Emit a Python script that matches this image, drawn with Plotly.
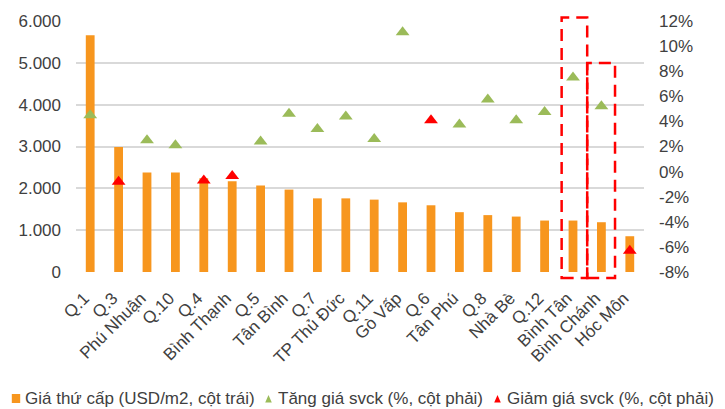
import plotly.graph_objects as go

# District names (x categories)
districts = [
    "Q.1", "Q.3", "Phú Nhuận", "Q.10", "Q.4", "Bình Thạnh", "Q.5", "Tân Bình",
    "Q.7", "TP Thủ Đức", "Q.11", "Gò Vấp", "Q.6", "Tân Phú", "Q.8", "Nhà Bè",
    "Q.12", "Bình Tân", "Bình Chánh", "Hóc Môn",
]

# Secondary-market price, USD/m2 (left axis)
price_usd_m2 = [
    5660, 2990, 2380, 2380, 2240, 2170, 2070, 1970,
    1760, 1760, 1730, 1665, 1595, 1430, 1360, 1325,
    1230, 1230, 1190, 855,
]

# Year-on-year price change, % (right axis): rises and declines
rise_pct = [
    4.5, None, 2.5, 2.1, None, None, 2.4, 4.6,
    3.4, 4.4, 2.6, 11.1, None, 3.75, 5.75, 4.1,
    4.75, 7.5, 5.2, None,
]
fall_pct = [
    None, -0.8, None, None, -0.7, -0.35, None, None,
    None, None, None, None, 4.1, None, None, None,
    None, None, None, -6.3,
]

# Axis ticks
left_ticks = [0, 1000, 2000, 3000, 4000, 5000, 6000]
right_ticks = [-8, -6, -4, -2, 0, 2, 4, 6, 8, 10, 12]
right_tick_text = ["-8%", "-6%", "-4%", "-2%", "0%", "2%", "4%", "6%", "8%", "10%", "12%"]

# Legend labels
legend_labels = [
    "Giá thứ cấp (USD/m2, cột trái)",
    "Tăng giá svck (%, cột phải)",
    "Giảm giá svck (%, cột phải)",
]

# Highlighted districts (dashed boxes)
highlighted = ["Bình Tân", "Bình Chánh"]

ORANGE = "#F7961E"
GREEN = "#9BBB59"
RED = "#FF0000"
TEXT = "#404040"
FONT = "Arial, Liberation Sans, sans-serif"

W, H = 725, 409
M_L, M_R, M_T, M_B = 76, 81, 21, 137
PLOT_W = W - M_L - M_R
PLOT_H = H - M_T - M_B


def px_x(px):
    """Pixel column -> paper x."""
    return (px - M_L) / PLOT_W


def px_y(py):
    """Pixel row (from top) -> paper y."""
    return (H - M_B - py) / PLOT_H


fig = go.Figure()

fig.add_trace(go.Bar(
    x=districts, y=price_usd_m2, name=legend_labels[0],
    marker=dict(color=ORANGE, line=dict(width=0)), width=0.31,
    showlegend=False,
))
fig.add_trace(go.Scatter(
    x=districts, y=rise_pct, name=legend_labels[1], yaxis="y2",
    mode="markers", marker=dict(symbol="triangle-up", size=12, color=GREEN),
    showlegend=False,
))
fig.add_trace(go.Scatter(
    x=districts, y=fall_pct, name=legend_labels[2], yaxis="y2",
    mode="markers", marker=dict(symbol="triangle-up", size=12, color=RED),
    showlegend=False,
))

shapes = []
annotations = []

# Dashed highlight boxes around the two districts
box_specs = [
    # (district, left offset, right offset, top pixel row)
    (highlighted[0], -0.40, 0.50, 17.5),
    (highlighted[1], -0.50, 0.48, 63.0),
]
for name, dl, dr, top_px in box_specs:
    i = districts.index(name)
    shapes.append(dict(
        type="rect", xref="x", yref="paper",
        x0=i + dl, x1=i + dr, y0=px_y(278), y1=px_y(top_px),
        line=dict(color=RED, width=2.5, dash="12px,7px"),
        fillcolor="rgba(0,0,0,0)", layer="above",
    ))

# Legend row drawn at the bottom
leg_y = 398.5
legend_items = [
    # (symbol kind, colour, symbol centre x, text start x)
    ("square", ORANGE, 16.0, 23.0),
    ("triangle", GREEN, 268.5, 275.5),
    ("triangle", RED, 497.5, 504.5),
]
for (kind, color, cx, tx), label in zip(legend_items, legend_labels):
    if kind == "square":
        shapes.append(dict(
            type="rect", xref="paper", yref="paper",
            x0=px_x(cx - 4.2), x1=px_x(cx + 4.2),
            y0=px_y(leg_y + 4.5), y1=px_y(leg_y - 4.5),
            fillcolor=color, line=dict(width=0),
        ))
    else:
        path = "M {:.5f},{:.5f} L {:.5f},{:.5f} L {:.5f},{:.5f} Z".format(
            px_x(cx - 3.3), px_y(leg_y + 4.0),
            px_x(cx + 3.3), px_y(leg_y + 4.0),
            px_x(cx), px_y(leg_y - 3.5),
        )
        shapes.append(dict(
            type="path", xref="paper", yref="paper", path=path,
            fillcolor=color, line=dict(width=0),
        ))
    annotations.append(dict(
        xref="paper", yref="paper", x=px_x(tx), y=px_y(leg_y),
        xanchor="left", yanchor="middle", showarrow=False,
        text=label, font=dict(family=FONT, size=17, color=TEXT),
    ))

fig.update_layout(
    width=W, height=H,
    margin=dict(l=M_L, r=M_R, t=M_T, b=M_B, pad=0),
    paper_bgcolor="white", plot_bgcolor="white",
    separators=",.",
    font=dict(family=FONT, size=17, color=TEXT),
    showlegend=False,
    bargap=0.69,
    xaxis=dict(
        type="category", range=[-0.5, len(districts) - 0.5],
        tickangle=-45, showgrid=False, zeroline=False, showline=False,
        ticks="", ticklabelstandoff=12, ticklabelshift=-6,
        tickfont=dict(family=FONT, size=17, color=TEXT),
    ),
    yaxis=dict(
        range=[0, 6000], tickvals=left_ticks, tickformat=",d",
        showgrid=True, gridcolor="#D9D9D9", gridwidth=2,
        zeroline=False, showline=False, ticks="",
        ticklabelstandoff=14,
        tickfont=dict(family=FONT, size=17, color=TEXT),
    ),
    yaxis2=dict(
        overlaying="y", side="right", range=[-8, 12],
        tickvals=right_ticks, ticktext=right_tick_text,
        showgrid=False, zeroline=False, showline=False, ticks="",
        ticklabelstandoff=14,
        tickfont=dict(family=FONT, size=17, color=TEXT),
    ),
    shapes=shapes,
    annotations=annotations,
)

fig.write_html("out.html")
